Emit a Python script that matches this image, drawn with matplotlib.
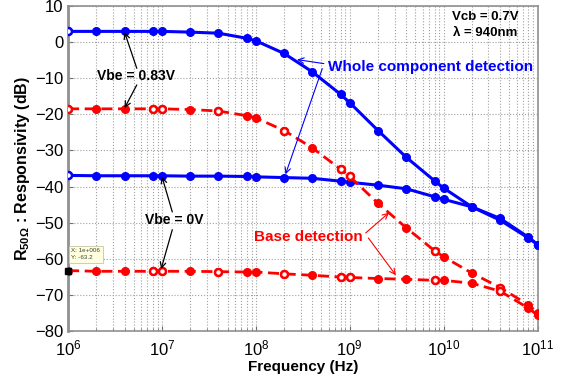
import matplotlib
matplotlib.use("Agg")
import matplotlib.pyplot as plt
import numpy as np
from matplotlib.ticker import FixedLocator, FuncFormatter, LogLocator, NullFormatter

plt.rcParams['font.family'] = ['Liberation Sans', 'DejaVu Sans']
plt.rcParams['mathtext.fontset'] = 'custom'
plt.rcParams['mathtext.rm'] = 'Liberation Sans'
plt.rcParams['mathtext.bf'] = 'Liberation Sans:bold'

freq = [1e6, 2e6, 4e6, 8e6, 1e7, 2e7, 4e7, 8e7, 1e8, 2e8, 4e8, 8e8, 1e9,
        2e9, 4e9, 8e9, 1e10, 2e10, 4e10, 8e10, 1e11]

whole_083 = [2.9, 2.9, 2.9, 2.9, 2.9, 2.7, 2.4, 1.0, 0.3, -3.2, -8.3, -14.5, -16.8,
             -24.5, -31.9, -38.4, -40.4, -45.6, -48.8, -54.0, -56.0]
whole_0 = [-36.9, -37.0, -37.0, -37.0, -37.0, -37.1, -37.1, -37.2, -37.3, -37.5, -37.7,
           -38.5, -38.8, -39.6, -40.6, -42.8, -43.5, -45.6, -49.3, -54.2, -56.0]
base_083 = [-18.5, -18.5, -18.5, -18.5, -18.5, -18.7, -19.1, -20.4, -21.0, -24.5, -29.3,
            -35.2, -37.2, -44.6, -51.4, -57.7, -59.4, -63.9, -67.9, -72.7, -75.0]
base_0 = [-63.2, -63.4, -63.4, -63.4, -63.4, -63.4, -63.5, -63.6, -63.6, -64.1, -64.5,
          -65.0, -65.1, -65.4, -65.6, -65.9, -65.9, -66.7, -68.9, -73.6, -75.5]

hollow_idx = [0, 3, 4, 6, 9, 11, 12, 15, 18]

yticks = [10, 0, -10, -20, -30, -40, -50, -60, -70, -80]
xticks = [1e6, 1e7, 1e8, 1e9, 1e10, 1e11]

BLUE = '#0000ff'
RED = '#ff0000'

fig = plt.figure(figsize=(5.63, 3.8), dpi=100)
ax = fig.add_axes([0.1208, 0.128, 0.834, 0.857])

ax.plot(freq, whole_083, '-', color=BLUE, lw=2.2, marker='o', ms=5.5, zorder=3)
ax.plot(freq, whole_0, '-', color=BLUE, lw=2.2, marker='o', ms=5.5, zorder=3)
ax.plot(freq, base_083, '--', color=RED, lw=2.0, marker='o', ms=5.5, dashes=(4, 2), zorder=3)
ax.plot(freq, base_0, '--', color=RED, lw=2.0, marker='o', ms=5.5, dashes=(4, 2), zorder=3)

fh = [freq[i] for i in hollow_idx]
ax.plot(fh, [base_083[i] for i in hollow_idx], 'o', ms=5, mfc='white', mec=RED, mew=1.8, zorder=4)
ax.plot(fh[1:], [base_0[i] for i in hollow_idx][1:], 'o', ms=5, mfc='white', mec=RED, mew=1.8, zorder=4)
ax.plot([freq[0]], [whole_083[0]], 'o', ms=5, mfc='white', mec=BLUE, mew=1.8, zorder=4)
ax.plot([freq[0]], [whole_0[0]], 'o', ms=5, mfc='white', mec=BLUE, mew=1.8, zorder=4)

ax.set_xscale('log')
ax.set_xlim(1e6, 1e11)
ax.set_ylim(-80, 10)
ax.xaxis.set_major_locator(FixedLocator(xticks))
ax.xaxis.set_major_formatter(FuncFormatter(lambda v, p: r'$\mathregular{10^{%d}}$' % round(np.log10(v))))
ax.xaxis.set_minor_locator(LogLocator(base=10, subs=np.arange(2, 10)))
ax.xaxis.set_minor_formatter(NullFormatter())
ax.yaxis.set_major_locator(FixedLocator(yticks))
ax.tick_params(axis='both', which='both', direction='in', colors='#707070', labelcolor='black', labelsize=12)
ax.tick_params(axis='x', which='major', pad=5)
ax.grid(True, which='major', axis='both', ls=':', color='#a0a0a0', lw=0.8)
ax.grid(True, which='minor', axis='x', ls=':', color='#a0a0a0', lw=0.8)
for s in ax.spines.values():
    s.set_color('#909090')
    s.set_linewidth(1.2)
ax.spines['left'].set_linewidth(2.0)

ax.set_xlabel('Frequency (Hz)', fontsize=11, fontweight='bold', labelpad=1)
ax.set_ylabel(r'$\mathbf{R_{50\Omega}}$ : Responsivity (dB)', fontsize=11.5, fontweight='bold', labelpad=2)

# annotations
akw = dict(arrowstyle='->', color='black', lw=0.9, shrinkA=0, shrinkB=0)
ax.text(5.3e6, -9.5, 'Vbe = 0.83V', fontsize=10, fontweight='bold', ha='center', va='center', zorder=6)
ax.annotate('', xy=(4e6, 2.7), xytext=(5.4e6, -7.3), arrowprops=akw, zorder=6)
ax.annotate('', xy=(4e6, -18.3), xytext=(5.4e6, -11.9), arrowprops=akw, zorder=6)

ax.text(1.34e7, -49.3, 'Vbe = 0V', fontsize=10, fontweight='bold', ha='center', va='center', zorder=6)
ax.annotate('', xy=(1.0e7, -37.2), xytext=(1.29e7, -47.0), arrowprops=akw, zorder=6)
ax.annotate('', xy=(9.8e6, -62.8), xytext=(1.29e7, -51.9), arrowprops=akw, zorder=6)

bkw = dict(arrowstyle='->', color=BLUE, lw=0.8, shrinkA=0, shrinkB=0)
ax.text(7.3e9, -7.0, 'Whole component detection', fontsize=11, fontweight='bold',
        color=BLUE, ha='center', va='center', zorder=6)
ax.annotate('', xy=(2.75e8, -4.9), xytext=(5.3e8, -6.0), arrowprops=bkw, zorder=6)
ax.annotate('', xy=(2.07e8, -36.6), xytext=(5.1e8, -7.4), arrowprops=bkw, zorder=6)

rkw = dict(arrowstyle='->', color=RED, lw=0.8, shrinkA=0, shrinkB=0)
ax.text(3.6e8, -54.0, 'Base detection', fontsize=11, fontweight='bold',
        color=RED, ha='center', va='center', zorder=6)
ax.annotate('', xy=(2.62e9, -47.2), xytext=(1.48e9, -52.8), arrowprops=rkw, zorder=6)
ax.annotate('', xy=(3.1e9, -64.5), xytext=(1.58e9, -54.2), arrowprops=rkw, zorder=6)

ax.text(2.76e10, 6.9, 'Vcb = 0.7V', fontsize=9.5, fontweight='bold', ha='center', va='center', zorder=6)
ax.text(2.76e10, 2.4, '\u03bb = 940nm', fontsize=9.5, fontweight='bold', ha='center', va='center', zorder=6)

# data tip
ax.plot([freq[0]], [base_0[0]], 's', color='black', ms=4, zorder=7, clip_on=False)
ax.text(1.08e6, -58.7, 'X: 1e+006\nY: -63.2', fontsize=4.5, color='#404040', va='center', ha='left',
        linespacing=1.6, zorder=7,
        bbox=dict(boxstyle='square,pad=0.4', fc='#ffffe0', ec='#c8c8a0', lw=0.6))

fig.savefig('out.png', dpi=100)
